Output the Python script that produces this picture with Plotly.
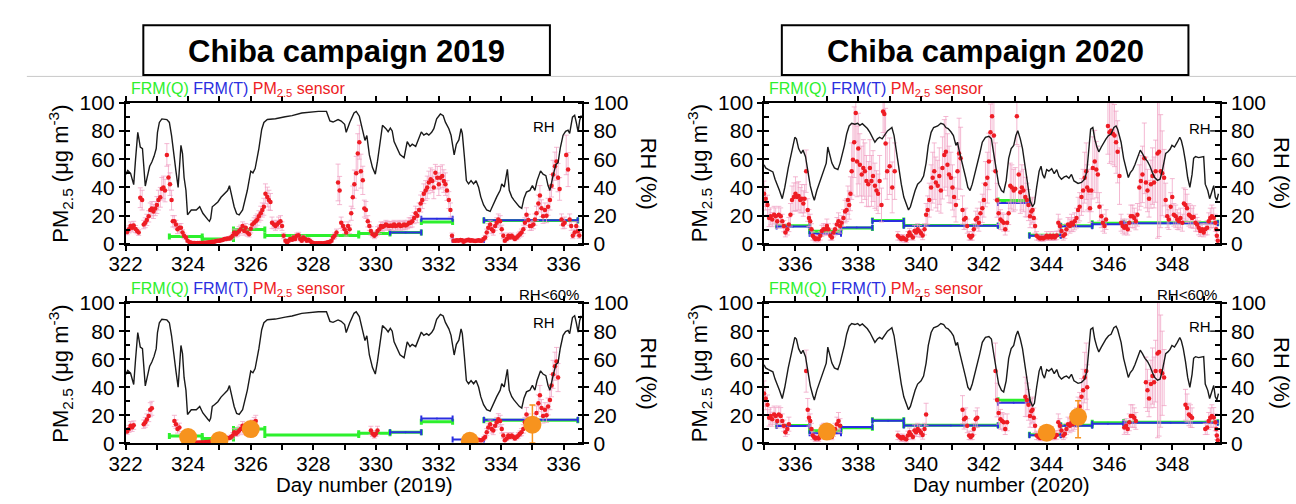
import numpy as np
import plotly.graph_objects as go

# ---------------- data ----------------
RH2019 = [
(322.00,49),(322.07,52),(322.16,50),(322.26,42),(322.32,60),(322.39,79),(322.43,74),(322.47,68.6),(322.54,67.5),
(322.58,55),(322.63,41),(322.68,46),(322.77,55),(322.84,58),(322.91,62),(322.98,67.5),(323.02,79),(323.08,86),
(323.16,88.5),(323.32,88),(323.40,86),(323.47,76.7),(323.55,60.6),(323.61,51.5),(323.68,40),(323.73,60),(323.77,69.8),
(323.82,64),(323.87,47),(323.93,37.8),(323.98,20.6),(324.10,24),(324.26,24),(324.37,26.3),(324.47,21.7),(324.63,17.2),
(324.68,16),(324.72,18),(324.77,26.3),(324.84,27.5),(324.95,29.7),(325.05,33),(325.16,35.5),(325.26,37.8),(325.32,41.2),
(325.37,35.5),(325.47,26.3),(325.55,21.3),(325.63,20.6),(325.74,24),(325.82,31),(325.89,37.8),(326.00,51.5),(326.07,50.3),
(326.14,53.3),(326.20,60),(326.26,67.5),(326.35,81),(326.42,86),(326.53,88.1),(326.79,88.6),(327.10,90),(327.32,90.8),
(327.63,92.7),(327.95,93.4),(328.16,93.8),(328.42,93.8),(328.48,90),(328.53,87),(328.63,86.3),(328.79,88),(328.89,87),
(329.00,84.7),(329.05,79),(329.16,85.8),(329.30,92.7),(329.37,93.8),(329.47,90.4),(329.58,81.2),(329.65,73.3),(329.71,76.7),
(329.79,63),(329.89,54),(329.98,49.4),(330.05,58.6),(330.14,74.7),(330.21,84),(330.32,81.6),(330.39,79.4),(330.46,82),
(330.52,80),(330.58,72.4),(330.69,66.6),(330.77,63.2),(330.90,61),(331.00,72.4),(331.09,69),(331.16,70.6),(331.27,69),
(331.38,74.7),(331.45,79.3),(331.53,77),(331.62,78.2),(331.69,77),(331.78,79),(331.85,81.6),(331.94,88.5),(332.06,92),
(332.15,90.8),(332.22,86.2),(332.33,81.6),(332.40,77),(332.47,69),(332.50,63),(332.57,70.6),(332.65,73.6),(332.72,81.6),
(332.76,78.2),(332.83,61),(332.89,44.8),(332.96,42.5),(333.04,44.8),(333.12,42.5),(333.20,44.8),(333.28,40.2),(333.35,33.3),
(333.44,27.6),(333.54,24),(333.65,23),(333.74,27.6),(333.86,33.3),(333.97,37.9),(334.02,42.5),(334.10,40.2),(334.20,52.8),
(334.26,37.9),(334.34,33.3),(334.41,31),(334.50,28.7),(334.58,26.4),(334.66,25.2),(334.73,32.2),(334.81,36.7),(334.92,37.9),
(335.00,41.3),(335.08,37.9),(335.15,44.8),(335.26,51.7),(335.34,49.4),(335.43,48.3),(335.50,41.3),(335.56,37.9),(335.66,48.3),
(335.75,56.3),(335.82,57.5),(335.89,67.8),(335.98,77),(336.06,79.7),(336.14,80.5),(336.19,78.2),(336.28,89.7),(336.35,91),
(336.40,86.2),(336.46,79.3),(336.51,87.4),(336.56,91)]

RH2020 = [
(335.00,56),(335.05,53.8),(335.14,52.6),(335.21,51.5),(335.28,51),(335.35,45.8),(335.42,42.3),(335.49,37.8),(335.58,32),
(335.66,40),(335.77,53.8),(335.87,65.2),(335.98,75.5),(336.03,74.4),(336.10,67.5),(336.18,64),(336.24,66.4),(336.32,61.8),
(336.40,50.3),(336.47,41.2),(336.55,34.3),(336.60,30.9),(336.68,37.8),(336.79,44.6),(336.89,51.5),(336.98,57.2),(337.03,68.6),
(337.08,64),(337.16,57.2),(337.24,53.8),(337.35,52.6),(337.42,57.2),(337.49,63),(337.56,69.8),(337.63,77.8),(337.71,83.5),
(337.79,85.4),(337.89,84.7),(337.98,85.4),(338.05,84),(338.13,85.1),(338.21,83.5),(338.29,81.7),(338.37,79),(338.45,75.5),
(338.53,72),(338.61,74.4),(338.68,75.5),(338.76,74.4),(338.84,77),(338.93,80),(339.00,81.2),(339.07,82.4),(339.14,76.7),
(339.21,66.4),(339.28,53.8),(339.37,42.3),(339.45,33.2),(339.53,27.5),(339.60,24),(339.66,26.3),(339.74,33.2),(339.81,37.8),
(339.89,42.3),(340.00,44.6),(340.08,48),(340.16,57.2),(340.23,69.8),(340.32,79),(340.40,82.4),(340.53,83.5),(340.63,85.4),
(340.72,84.7),(340.79,82.4),(340.86,81.7),(340.95,79.4),(341.03,76.7),(341.11,69.8),(341.16,72),(341.21,66.4),(341.28,60.6),
(341.35,53.8),(341.42,47),(341.49,40),(341.56,37.8),(341.63,42.3),(341.71,49.2),(341.79,56),(341.87,64),(341.95,72),
(342.05,75.5),(342.16,76.2),(342.24,74.4),(342.32,63),(342.39,51.5),(342.47,42.3),(342.56,37.8),(342.63,36.6),(342.71,44.6),
(342.79,60.6),(342.87,67.5),(342.95,69.8),(343.02,76.7),(343.08,80.1),(343.16,74.4),(343.23,67.5),(343.32,53.8),(343.40,40),
(343.47,30.9),(343.55,26.3),(343.61,28.6),(343.68,40),(343.76,51.5),(343.82,55),(343.87,49.2),(343.93,46.5),(344.00,52.6),
(344.07,51.5),(344.16,53.3),(344.24,49.7),(344.32,52.6),(344.39,48),(344.47,45.8),(344.56,47.4),(344.63,48),(344.71,46.5),
(344.79,49.2),(344.87,44.6),(345.00,42.8),(345.11,43.5),(345.21,45.8),(345.28,51.5),(345.34,65.2),(345.40,81.2),(345.47,82.4),
(345.53,74.4),(345.60,68.6),(345.66,65.2),(345.74,68.6),(345.82,72),(345.89,74.4),(345.97,76.7),(346.05,77.8),(346.14,82.4),
(346.21,83.5),(346.26,81.2),(346.37,72),(346.45,60.6),(346.53,53.8),(346.60,47),(346.66,50.3),(346.74,52.6),(346.81,56),
(346.89,60.6),(346.98,66.4),(347.05,64),(347.13,60.6),(347.21,58.4),(347.29,55),(347.37,50.3),(347.44,47),(347.53,45),
(347.61,45.8),(347.68,51.5),(347.74,57.2),(347.79,64),(347.86,65.2),(347.93,67),(347.99,69.8),(348.07,68.6),(348.16,72),
(348.24,75.5),(348.29,73),(348.35,67.5),(348.42,58.4),(348.49,47),(348.56,40),(348.63,49.2),(348.68,60.6),(348.74,61.8),
(348.84,61.1),(348.95,61.8),(349.00,61.8),(349.05,42.3),(349.13,37.8),(349.19,32),(349.26,37.8),(349.32,41.2),(349.37,33.2),
(349.42,30.9),(349.47,35.5)]

SENSOR2019 = [
(322.00,9.2,2),(322.05,8.5,2),(322.11,10.3,2.5),(322.16,12.6,3),(322.21,11.5,3),(322.26,13.0,3),(322.32,10.5,2.5),
(322.37,9.2,2),(322.42,8.0,2),(322.47,32.7,7),(322.53,31.0,7),(322.58,13.7,3),(322.63,15.0,3.5),(322.68,17.0,4),
(322.74,19.5,4),(322.79,24.0,5),(322.84,25.0,5),(322.89,23.0,5),(322.95,25.0,5),(323.00,27.5,6),(323.05,31.0,7),
(323.11,33.0,7),(323.16,39.0,8),(323.21,40.0,8),(323.26,37.8,8),(323.32,63.0,8),(323.37,47.0,9),(323.42,42.3,8),
(323.47,31.0,7),(323.51,16.0,4),(323.56,16.0,4),(323.61,13.7,3),(323.66,10.3,3),(323.72,11.4,3),(323.77,11.4,3),
(323.82,8.0,2),(323.87,5.7,2),(323.93,4.6,1.5),(323.98,2.3,1),(324.05,1.1,0.8),(324.10,0.8,0.6),(324.16,0.6,0.5),
(324.21,0.6,0.5),(324.26,0.5,0.5),(324.31,0.6,0.5),(324.37,0.6,0.5),(324.42,0.7,0.5),(324.47,0.7,0.5),(324.52,0.8,0.6),
(324.58,0.9,0.6),(324.63,1.0,0.7),(324.68,1.2,0.8),(324.74,1.4,0.8),(324.79,1.6,0.9),(324.84,1.6,0.9),(324.89,2.0,1),
(324.95,2.3,1),(325.00,2.3,1),(325.05,2.6,1),(325.10,2.8,1),(325.16,3.4,1.2),(325.21,3.4,1.2),(325.26,3.9,1.3),
(325.32,3.9,1.3),(325.37,4.5,1.5),(325.42,5.7,2),(325.47,8.0,2.5),(325.53,6.9,2),(325.58,8.0,2.5),(325.63,9.2,3),
(325.68,10.3,3),(325.74,12.6,3),(325.79,9.2,3),(325.84,11.4,3),(325.89,8.0,2.5),(325.95,6.9,2),(326.00,10.8,3),
(326.05,13.7,3),(326.11,15.0,3.5),(326.16,16.0,4),(326.21,17.2,4),(326.26,19.5,4),(326.32,21.7,5),(326.37,24.0,5),
(326.42,26.3,6),(326.47,35.5,7),(326.53,33.2,7),(326.58,31.0,7),(326.63,29.7,6),(326.68,15.0,4),(326.74,13.7,3),
(326.79,12.6,3),(326.84,13.7,3),(326.89,15.0,4),(326.95,16.0,4),(327.00,12.6,3),(327.05,5.7,2),(327.11,2.3,1),
(327.16,1.1,0.8),(327.21,2.3,1),(327.26,3.4,1.2),(327.32,3.0,1.2),(327.37,4.6,1.5),(327.42,3.4,1.2),(327.47,5.7,2),
(327.53,6.2,2),(327.58,3.4,1.2),(327.63,2.3,1),(327.68,4.6,1.5),(327.74,3.4,1.2),(327.79,2.3,1),(327.84,3.0,1.2),
(327.89,2.3,1),(327.95,1.1,0.8),(328.00,0.5,0.5),(328.05,0.5,0.5),(328.11,0.5,0.5),(328.16,0.5,0.5),(328.21,0.5,0.5),
(328.26,0.5,0.5),(328.32,0.5,0.5),(328.37,0.6,0.5),(328.42,0.8,0.5),(328.47,1.1,0.8),(328.53,1.6,0.8),(328.58,2.3,1),
(328.63,4.6,1.5),(328.68,5.7,2),(328.74,8.0,2.5),(328.79,43.5,13),(328.84,37.8,10),(328.89,15.0,4),(328.95,12.6,3),
(329.00,10.3,3),(329.05,8.0,2.5),(329.11,12.6,3),(329.16,10.3,3),(329.21,21.7,5),(329.26,33.0,8),(329.31,42.3,10),
(329.37,50.0,12),(329.42,64.0,14),(329.47,72.0,12),(329.52,51.5,12),(329.58,45.0,10),(329.63,25.0,6),(329.68,24.0,6),
(329.74,16.0,4),(329.79,12.6,3),(329.84,9.2,3),(329.89,6.9,2),(329.95,5.7,2),(330.00,6.9,2),(330.05,9.2,3),
(330.11,10.3,3),(330.16,12.6,3),(330.21,12.0,3),(330.26,12.6,3),(330.32,13.7,3),(330.37,13.0,3),(330.42,12.6,3),
(330.48,13.0,3),(330.53,12.6,3),(330.58,13.7,3),(330.63,12.6,3),(330.69,13.0,3),(330.74,13.7,3),(330.79,12.6,3),
(330.85,13.0,3),(330.90,13.7,3),(330.95,13.0,3),(331.01,13.7,3),(331.06,15.0,3.5),(331.11,15.0,3.5),(331.16,16.0,4),
(331.22,18.3,4),(331.27,21.7,5),(331.32,20.0,5),(331.38,24.0,5),(331.43,28.6,6),(331.48,31.0,6),(331.53,35.5,7),
(331.59,37.8,7),(331.64,40.0,8),(331.69,43.5,8),(331.75,45.8,8),(331.80,44.5,8),(331.85,40.0,8),(331.90,50.3,6),
(331.96,46.9,8),(332.01,42.3,8),(332.06,46.9,8),(332.12,48.0,8),(332.17,44.5,8),(332.22,42.3,8),(332.27,37.8,7),
(332.33,31.0,6),(332.38,24.0,5),(332.43,5.7,2),(332.48,2.3,1),(332.54,2.3,1),(332.59,2.5,1),(332.64,2.3,1),
(332.70,2.8,1),(332.75,2.5,1),(332.80,1.6,1),(332.85,2.3,1),(332.91,2.5,1),(332.96,3.0,1),(333.01,2.3,1),
(333.06,2.5,1),(333.12,2.3,1),(333.17,2.0,1),(333.22,2.3,1),(333.28,2.5,1),(333.33,2.3,1),(333.38,2.3,1),
(333.44,3.4,1.2),(333.49,4.6,1.5),(333.54,8.0,2.5),(333.59,11.4,3),(333.65,13.7,3),(333.70,10.3,3),(333.75,9.2,3),
(333.81,12.6,3),(333.86,15.0,3.5),(333.91,17.2,4),(333.97,16.0,4),(334.02,10.3,3),(334.07,5.7,2),(334.12,2.3,1),
(334.18,3.4,1.2),(334.23,5.7,2),(334.28,4.6,1.5),(334.34,5.7,2),(334.39,4.6,1.5),(334.44,3.4,1.2),(334.50,4.6,1.5),
(334.55,5.7,2),(334.60,6.9,2),(334.65,8.0,2.5),(334.71,10.3,3),(334.76,15.0,3.5),(334.81,20.6,5),(334.87,17.0,4),
(334.92,12.6,3),(334.97,12.6,3),(335.03,13.7,3),(335.08,17.2,4),(335.13,21.7,5),(335.19,28.6,6),(335.24,34.3,7),
(335.29,25.2,6),(335.34,19.5,5),(335.40,24.0,5),(335.45,20.0,5),(335.50,26.3,6),(335.56,31.0,7),(335.61,41.2,8),
(335.66,49.2,10),(335.72,55.0,10),(335.77,58.4,10),(335.82,46.9,10),(335.87,38.9,8),(335.93,17.2,4),(335.98,13.7,3),
(336.03,15.0,4),(336.08,63.0,14),(336.14,52.6,12),(336.19,17.2,4),(336.24,12.6,3),(336.29,5.7,2),(336.35,8.0,2.5),
(336.40,12.6,3),(336.45,9.0,3),(336.50,6.0,2)]

SENSOR2020 = [
(335.00,35.5,9),(335.05,32.0,8),(335.11,27.5,7),(335.16,18.3,6),(335.21,19.5,6),(335.26,17.2,5),(335.32,20.6,6),
(335.37,19.5,6),(335.42,16.0,5),(335.47,20.6,6),(335.53,19.5,6),(335.58,16.0,5),(335.63,12.6,4),(335.68,8.0,3),
(335.74,10.3,4),(335.79,13.7,5),(335.84,20.6,8),(335.89,31.0,10),(335.95,33.2,10),(336.00,35.5,12),(336.05,33.2,10),
(336.10,34.0,10),(336.15,31.0,9),(336.20,32.0,10),(336.25,28.6,9),(336.29,32.0,10),(336.34,51.5,15),(336.39,24.0,8),
(336.43,18.3,6),(336.47,16.0,5),(336.51,10.3,4),(336.55,5.7,3),(336.59,4.6,2),(336.63,3.4,2),(336.68,3.8,2),
(336.74,3.4,2),(336.79,5.7,3),(336.84,9.2,4),(336.89,10.3,4),(336.95,10.3,4),(337.00,12.6,5),(337.05,10.3,4),
(337.11,5.7,3),(337.16,4.6,2),(337.21,8.0,3),(337.26,10.3,4),(337.32,13.7,5),(337.37,16.0,6),(337.42,12.6,5),
(337.47,15.0,5),(337.53,18.3,6),(337.58,22.9,8),(337.63,24.0,8),(337.67,31.0,10),(337.71,27.5,10),(337.75,35.5,12),
(337.79,51.5,20),(337.83,59.5,25),(337.87,72.0,25),(337.92,92.7,20),(337.96,58.4,25),(338.00,67.5,25),(338.05,56.0,22),
(338.11,49.2,20),(338.16,53.8,20),(338.21,51.5,20),(338.26,44.6,18),(338.32,42.3,16),(338.37,53.8,20),(338.42,44.6,18),
(338.47,48.0,18),(338.53,41.2,16),(338.58,37.8,14),(338.63,35.5,14),(338.68,44.6,18),(338.74,27.5,12),(338.79,93.8,15),
(338.83,92.0,15),(338.87,71.0,25),(338.92,51.5,20),(339.00,55.0,20),(339.08,40.0,18),(339.16,51.5,20),(339.26,5.7,3),
(339.32,4.6,2),(339.37,3.4,2),(339.42,4.6,2),(339.47,3.4,2),(339.53,3.0,2),(339.58,5.7,3),(339.63,8.0,3),
(339.68,6.2,3),(339.74,4.6,2),(339.79,9.2,4),(339.84,8.0,3),(339.89,10.3,4),(339.95,9.0,4),(340.00,7.5,3),
(340.05,6.0,3),(340.11,10.3,4),(340.16,20.6,8),(340.21,24.0,10),(340.26,31.0,12),(340.32,40.0,16),(340.37,46.9,18),
(340.42,51.5,20),(340.47,43.5,18),(340.53,41.2,18),(340.58,48.0,20),(340.63,37.8,16),(340.68,53.8,22),(340.74,63.0,25),
(340.79,65.2,25),(340.84,56.0,22),(340.89,49.2,20),(340.95,46.9,18),(341.00,40.0,16),(341.05,33.2,14),(341.11,27.5,12),
(341.16,51.5,20),(341.21,64.0,25),(341.26,60.6,22),(341.32,24.0,10),(341.37,17.2,7),(341.42,18.3,7),(341.47,12.6,5),
(341.53,5.7,3),(341.58,4.6,2),(341.63,5.7,3),(341.68,10.3,4),(341.74,17.2,6),(341.79,18.3,7),(341.84,15.0,6),
(341.89,21.7,8),(341.95,25.2,10),(342.00,31.0,12),(342.05,42.3,16),(342.11,46.9,18),(342.16,58.4,20),(342.21,79.0,20),
(342.26,90.4,15),(342.32,76.7,25),(342.37,51.5,20),(342.42,30.9,12),(342.47,21.7,8),(342.53,17.2,7),(342.58,16.0,6),
(342.63,15.0,6),(342.68,10.3,4),(342.74,15.0,6),(342.79,21.7,8),(342.84,41.2,16),(342.89,40.0,16),(342.95,37.8,15),
(343.00,39.0,15),(343.05,90.4,20),(343.11,49.2,20),(343.16,36.6,15),(343.21,40.0,16),(343.26,37.8,15),(343.32,33.2,14),
(343.37,31.0,12),(343.42,27.5,11),(343.47,19.5,8),(343.51,22.9,9),(343.55,24.0,9),(343.59,18.3,7),(343.63,12.6,5),
(343.68,5.7,3),(343.74,4.6,2),(343.79,3.9,2),(343.84,4.3,2),(343.89,3.9,2),(343.95,4.6,2),(344.00,5.7,3),
(344.05,4.6,2),(344.11,5.7,3),(344.16,4.6,2),(344.21,5.7,3),(344.26,4.6,2),(344.32,6.0,3),(344.37,15.0,6),
(344.42,12.6,5),(344.47,9.2,4),(344.53,5.7,3),(344.58,6.9,3),(344.63,10.3,4),(344.68,13.7,5),(344.74,12.6,5),
(344.79,15.0,6),(344.84,13.7,5),(344.89,16.0,6),(344.95,18.3,7),(345.00,24.0,9),(345.05,26.3,10),(345.11,33.2,13),
(345.16,37.8,15),(345.21,46.9,18),(345.26,51.5,20),(345.29,40.0,16),(345.34,37.8,15),(345.38,25.2,10),(345.42,37.8,15),
(345.47,53.8,22),(345.53,58.4,22),(345.58,52.6,20),(345.63,49.2,20),(345.68,26.3,10),(345.74,19.5,8),(345.79,15.0,6),
(345.84,12.6,5),(345.89,17.2,7),(345.95,83.5,20),(346.00,79.0,22),(346.05,80.1,22),(346.11,78.0,22),(346.16,76.7,22),
(346.21,72.0,22),(346.26,65.2,22),(346.32,48.0,20),(346.37,15.0,6),(346.42,12.6,5),(346.47,11.4,5),(346.53,12.6,5),
(346.58,10.3,4),(346.63,15.0,6),(346.68,19.5,8),(346.74,19.5,8),(346.79,18.3,7),(346.84,16.0,6),(346.89,20.6,8),
(346.95,40.0,16),(347.00,44.6,18),(347.05,49.2,20),(347.11,60.6,25),(347.16,43.5,18),(347.21,37.8,15),(347.26,32.0,13),
(347.32,42.3,17),(347.37,48.0,20),(347.42,43.5,18),(347.47,51.5,22),(347.53,64.0,60),(347.58,65.2,60),(347.63,51.5,40),
(347.68,50.0,30),(347.74,46.9,20),(347.79,31.0,12),(347.84,19.5,8),(347.89,17.2,7),(347.95,26.3,10),(348.00,33.2,13),
(348.05,20.6,8),(348.11,19.5,8),(348.16,17.2,7),(348.21,16.0,6),(348.26,18.3,7),(348.32,15.0,6),(348.37,28.6,11),
(348.42,27.5,11),(348.47,25.2,10),(348.53,20.6,8),(348.58,19.5,8),(348.63,18.3,7),(348.68,19.0,8),(348.74,15.0,6),
(348.79,13.7,5),(348.84,11.4,5),(348.89,9.2,4),(348.95,10.3,4),(349.00,8.0,3),(349.05,10.3,4),(349.11,11.4,5),
(349.16,16.0,6),(349.21,18.3,7),(349.26,19.5,8),(349.32,18.5,7),(349.37,15.0,6),(349.40,10.3,4),(349.42,5.7,3),
(349.45,2.3,2)]

FRMQ2019 = [(323.40,324.45,5.2),(324.45,325.45,3.4),(325.45,326.45,10.2),(326.45,329.45,6.0),(329.45,330.45,7.3),
            (330.45,331.45,8.0),(331.45,332.45,15.5),(333.45,336.45,16.5)]
FRMT2019 = [(330.45,331.45,8.0),(331.45,332.45,17.8),(332.45,333.45,2.7),(333.45,336.45,16.8)]
FRMQ2020 = [(335.40,336.45,12.8),(336.45,337.45,9.0),(337.45,338.45,11.2),(338.45,339.45,16.5),(339.45,342.45,13.0),
            (342.45,343.45,30.8),(343.45,344.45,6.2),(344.45,345.45,12.9),(345.45,346.45,14.7),(346.45,349.45,15.0)]
FRMT2020 = [(335.40,336.45,12.4),(336.45,337.45,7.2),(337.45,338.45,11.7),(338.45,339.45,16.2),(339.45,342.45,12.8),
            (342.45,343.45,29.0),(343.45,344.45,5.8),(344.45,345.45,12.5),(345.45,346.45,14.0),(346.45,349.45,14.7)]

REF2019 = [(324.0,4.5,0,0),(325.0,2.3,0,0),(326.0,10.2,0,0),(333.0,1.8,0,0),(335.0,13.3,14,13)]
REF2020 = [(337.0,8.4,0,0),(344.0,7.6,0,0),(345.0,18.9,11.4,14.9)]

TITLES = ["Chiba campaign 2019", "Chiba campaign 2020"]
XRANGES = [[322, 336.6], [335, 349.52]]
RH_LIMIT = 60

# ---------------- figure ----------------
W, H = 1296, 504
FONT = "Liberation Sans, Arial, sans-serif"
GREEN = "#2df02d"
BLUE = "#2a2ee0"
RED = "#ee1c24"
PINK = "rgba(240,160,195,0.75)"
ORANGE = "#f7931e"

def px(x):
    return x / W
def py(y):
    return 1 - y / H

XDOM = [[px(110), px(573)], [px(757), px(1219)]]
YDOM = {"top": [py(243), py(95)], "bot": [py(452), py(305)]}

fig = go.Figure()
layout = dict(width=W, height=H, margin=dict(l=0, r=0, t=0, b=0), autosize=False,
              paper_bgcolor="white", plot_bgcolor="rgba(0,0,0,0)", showlegend=False,
              font=dict(family=FONT, color="black"))

tickfont = dict(family=FONT, size=21, color="black")
xtickfont = dict(family=FONT, size=20.5, color="black")

panels = []
k = 0
for yi in range(2):
    for row in ["top", "bot"]:
        k += 1
        panels.append((yi, row, k))

annotations = []
shapes = []

for yi, row, k in panels:
    xa = "x" if k == 1 else f"x{k}"
    ya = "y" if k == 1 else f"y{k}"
    ra = f"y{k+4}"
    xname = "xaxis" if k == 1 else f"xaxis{k}"
    yname = "yaxis" if k == 1 else f"yaxis{k}"
    rname = f"yaxis{k+4}"
    tick0 = 322 if yi == 0 else 336
    layout[xname] = dict(domain=XDOM[yi], range=XRANGES[yi], anchor=ya, showline=True, linewidth=1.5,
                         linecolor="black", mirror="allticks", ticks="outside", ticklen=5, tickwidth=1.5,
                         tickcolor="black", tick0=tick0, dtick=2, showgrid=False, zeroline=False,
                         tickfont=xtickfont, ticklabelstandoff=-4,
                         minor=dict(dtick=1, ticks="outside", ticklen=5, tickwidth=1.5, tickcolor="black",
                                    showgrid=False))
    layout[yname] = dict(domain=YDOM[row], range=[0, 100], anchor=xa, showline=True, linewidth=1.5,
                         linecolor="black", ticks="outside", ticklen=5, tickwidth=1.5, tickcolor="black",
                         dtick=20, showgrid=False, zeroline=False, tickfont=tickfont,
                         minor=dict(dtick=10, ticks="inside", ticklen=5, tickwidth=1.5, tickcolor="black",
                                    showgrid=False))
    layout[rname] = dict(range=[0, 100], overlaying=ya, anchor=xa, side="right", showline=True, linewidth=1.5,
                         linecolor="black", ticks="outside", ticklen=5, tickwidth=1.5, tickcolor="black",
                         dtick=20, showgrid=False, zeroline=False, tickfont=tickfont,
                         minor=dict(dtick=10, ticks="inside", ticklen=5, tickwidth=1.5, tickcolor="black",
                                    showgrid=False))

    rh = RH2019 if yi == 0 else RH2020
    sensor = SENSOR2019 if yi == 0 else SENSOR2020
    frmq = FRMQ2019 if yi == 0 else FRMQ2020
    frmt = FRMT2019 if yi == 0 else FRMT2020
    rh_d = np.array([p[0] for p in rh]); rh_v = np.array([p[1] for p in rh])
    s_d = np.array([p[0] for p in sensor]); s_v = np.array([p[1] for p in sensor]); s_e = np.array([p[2] for p in sensor])
    if row == "bot":
        keep = np.interp(s_d, rh_d, rh_v) < RH_LIMIT
        s_d, s_v, s_e = s_d[keep], s_v[keep], s_e[keep]

    fig.add_trace(go.Scatter(
        x=[(a + b) / 2 for a, b, v in frmq], y=[v for a, b, v in frmq], xaxis=xa, yaxis=ya, mode="markers",
        marker=dict(size=2, color=GREEN),
        error_x=dict(type="data", array=[(b - a) / 2 for a, b, v in frmq], color=GREEN, thickness=3, width=3)))
    fig.add_trace(go.Scatter(
        x=[(a + b) / 2 for a, b, v in frmt], y=[v for a, b, v in frmt], xaxis=xa, yaxis=ya, mode="markers",
        marker=dict(size=2, color=BLUE),
        error_x=dict(type="data", array=[(b - a) / 2 for a, b, v in frmt], color=BLUE, thickness=2, width=3)))
    fig.add_trace(go.Scatter(
        x=s_d, y=s_v, xaxis=xa, yaxis=ya, mode="markers",
        marker=dict(size=4.5, color=RED),
        error_y=dict(type="data", array=s_e, color=PINK, thickness=1, width=2.5)))
    if row == "bot":
        ref = REF2019 if yi == 0 else REF2020
        fig.add_trace(go.Scatter(
            x=[r[0] for r in ref], y=[r[1] for r in ref], xaxis=xa, yaxis=ya, mode="markers",
            marker=dict(size=18, color=ORANGE),
            error_y=dict(type="data", symmetric=False, array=[r[2] for r in ref],
                         arrayminus=[r[3] for r in ref], color=ORANGE, thickness=1.5, width=3)))
    fig.add_trace(go.Scatter(x=rh_d, y=rh_v, xaxis=xa, yaxis=ra, mode="lines",
                             line=dict(color="#1a1a1a", width=1.4)))

    x0 = 110 if yi == 0 else 757
    x1 = 573 if yi == 0 else 1219
    ytop = 95 if row == "top" else 305
    ybot = 243 if row == "top" else 452
    leg_y = 81 if row == "top" else 291
    annotations.append(dict(
        x=px(x0 + 3), y=py(leg_y), xref="paper", yref="paper", xanchor="left", yanchor="middle",
        showarrow=False, font=dict(family=FONT, size=16),
        text=f"<span style='color:{GREEN}'>FRM(Q)</span> <span style='color:{BLUE}'>FRM(T)</span> "
             f"<span style='color:{RED}'>PM<sub>2.5</sub> sensor</span>"))
    annotations.append(dict(
        x=px(x0 - 66), y=py((ytop + ybot) / 2), xref="paper", yref="paper", xanchor="center", yanchor="middle",
        showarrow=False, textangle=-90, font=dict(family=FONT, size=22, color="black"),
        text="PM<sub>2.5</sub> (μg m<sup>-3</sup>)"))
    annotations.append(dict(
        x=px(x1 + (67 if yi == 0 else 63)), y=py((ytop + ybot) / 2), xref="paper", yref="paper",
        xanchor="center", yanchor="middle",
        showarrow=False, textangle=90, font=dict(family=FONT, size=22, color="black"),
        text="RH (%)"))
    if yi == 0:
        rh_lbl_x = 534
        rh_lbl_y = 120 if row == "top" else 325
    else:
        rh_lbl_x = 1199
        rh_lbl_y = 122 if row == "top" else 330
    annotations.append(dict(
        x=px(rh_lbl_x), y=py(rh_lbl_y), xref="paper", yref="paper", xanchor="center", yanchor="middle",
        showarrow=False, font=dict(family=FONT, size=15, color="black"), text="RH"))
    if yi == 1:
        ly = ybot - 0.8 * (ybot - ytop)
        shapes.append(dict(type="line", xref="paper", yref="paper", x0=px(1209), x1=px(1219),
                           y0=py(ly), y1=py(ly), line=dict(color="black", width=1.3)))
    if row == "bot":
        annotations.append(dict(
            x=px(x1 - 1), y=py(296), xref="paper", yref="paper", xanchor="right", yanchor="middle",
            showarrow=False, font=dict(family=FONT, size=15, color="black"),
            text=f"RH&lt;{RH_LIMIT}%"))
        annotations.append(dict(
            x=px(352 if yi == 0 else 998), y=py(495.5), xref="paper", yref="paper", xanchor="center",
            yanchor="middle", showarrow=False, font=dict(family=FONT, size=20.5, color="black"),
            text=f"Day number ({2019 + yi})"))

for i, (bx0, bx1) in enumerate([(128, 540), (775, 1187)]):
    shapes.append(dict(type="rect", xref="paper", yref="paper", x0=px(bx0), x1=px(bx1), y0=py(66), y1=py(14),
                       line=dict(color="black", width=2), fillcolor="white", layer="above"))
    annotations.append(dict(x=px((bx0 + bx1) / 2), y=py(41), xref="paper", yref="paper", xanchor="center",
                            yanchor="middle", showarrow=False,
                            font=dict(family=FONT, size=31, color="black"),
                            text=f"<b>{TITLES[i]}</b>"))
shapes.insert(0, dict(type="line", xref="paper", yref="paper", x0=px(10), x1=1, y0=py(67.5), y1=py(67.5),
                      line=dict(color="#c8c8c8", width=1), layer="below"))

layout["annotations"] = annotations
layout["shapes"] = shapes
fig.update_layout(**layout)
fig.write_html("out.html")
